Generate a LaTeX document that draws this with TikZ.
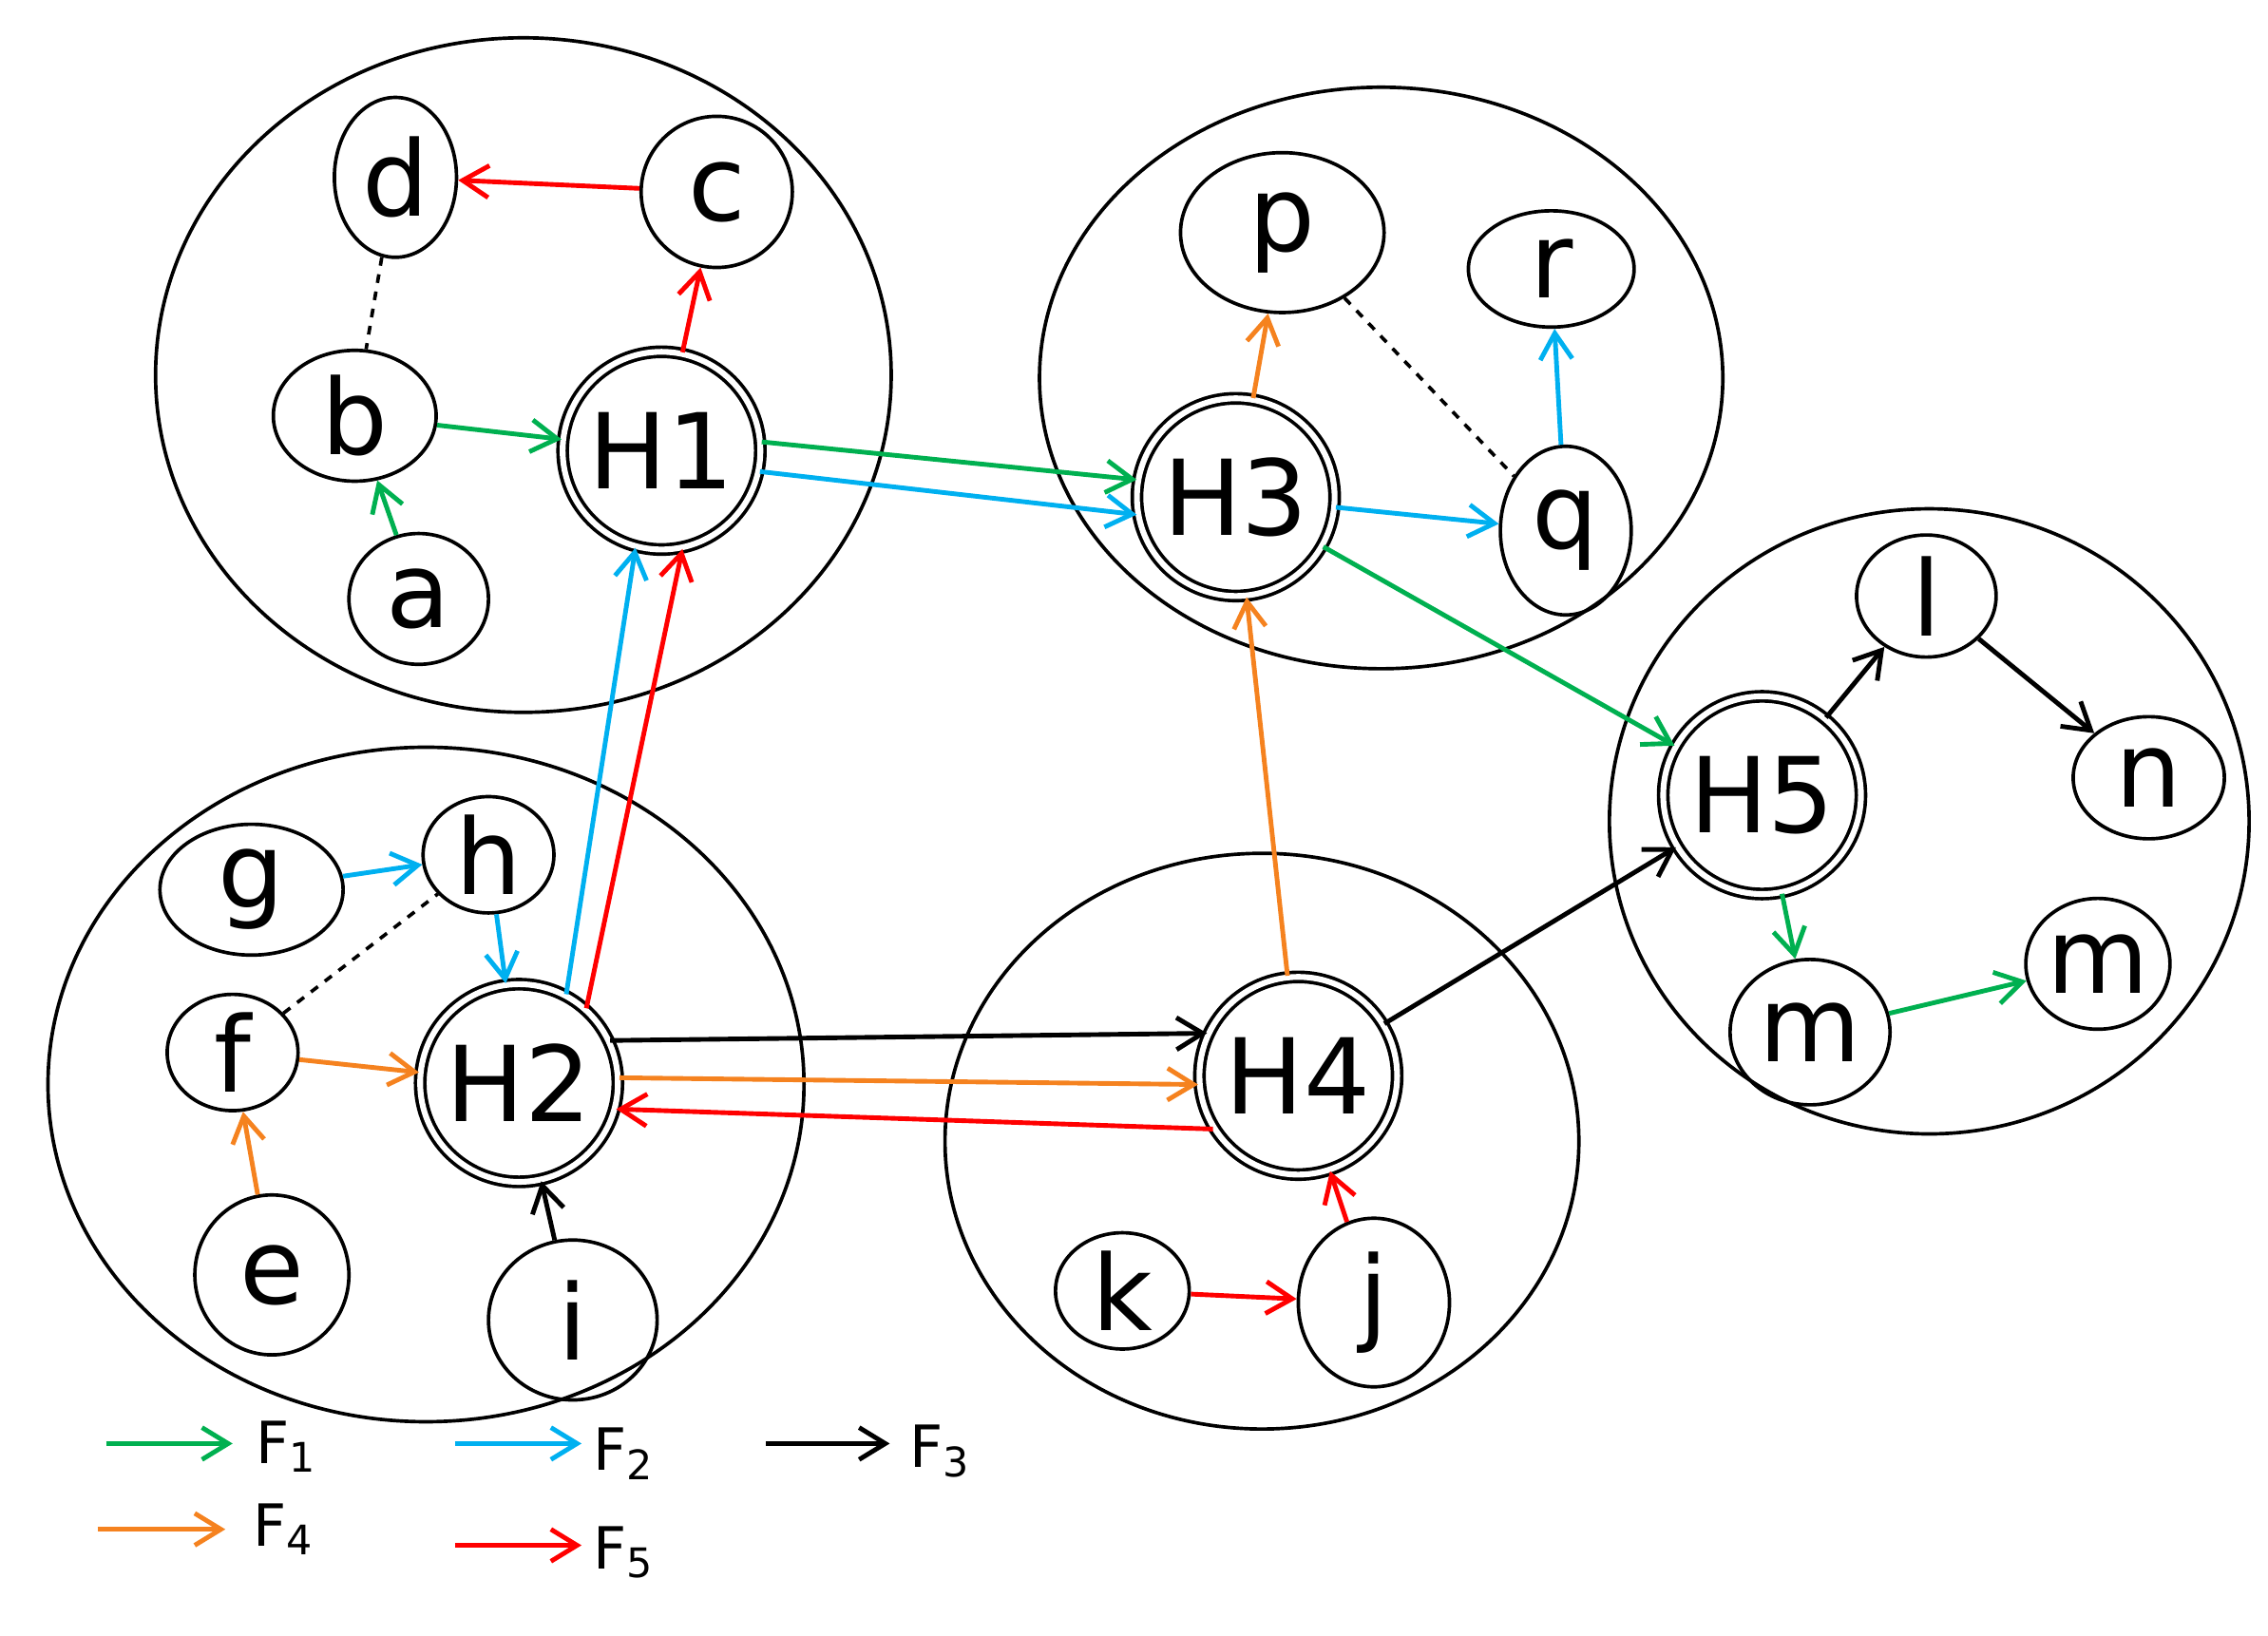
\documentclass[tikz,border=0pt]{standalone}
\usepackage{fontspec}
\setmainfont{DejaVu Sans}
\usetikzlibrary{arrows.meta, shapes.geometric, positioning}
\definecolor{fone}{HTML}{00B050}
\definecolor{ftwo}{HTML}{00B0F0}
\definecolor{ffour}{HTML}{F5821F}
\definecolor{ffive}{HTML}{FF0000}
\tikzset{
    %set default line width
    every picture/.style={line width=1.2pt},
    region/.style={
        draw,
        ellipse,
    },
    host/.style={
        draw,
        ellipse,
        inner sep=0pt,
        font=\fontsize{36}{38}\selectfont,
    },
    hub/.style={
        draw,
        circle,
        double,
        double distance=2pt,
        inner sep=0pt,
        minimum size=68pt,
        font=\fontsize{36}{38}\selectfont,
    },
    flow/.style={
        -{Straight Barb[length=9pt,width=11pt]},
        line width=1.6pt,
    },
    link/.style={
        dashed,
    },
    leg/.style={
        font=\fontsize{20}{22}\selectfont,
        anchor=west,
    }
}
\begin{document}
\begin{tikzpicture}[x=0.5pt,y=-0.5pt]
\useasboundingbox (0,0) rectangle (1560,1125);

% regions
\node[region, minimum width=253pt, minimum height=232pt] (R1) at (360,258) {};
\node[region, minimum width=235pt, minimum height=200pt] (R3) at (950,260) {};
\node[region, minimum width=260pt, minimum height=232pt] (R2) at (293,746) {};
\node[region, minimum width=218pt, minimum height=198pt] (R4) at (868,785) {};
\node[region, minimum width=220pt, minimum height=215pt] (R5) at (1327,565) {};

% hubs
\node[hub] (H1) at (455,310) {H1};
\node[hub] (H2) at (357,745) {H2};
\node[hub] (H3) at (850,342) {H3};
\node[hub] (H4) at (893,740) {H4};
\node[hub] (H5) at (1212,547) {H5};

% hosts
\node[host, minimum width=42pt, minimum height=55pt] (d) at (272,122) {d};
\node[host, minimum width=52pt, minimum height=52pt] (c) at (493,132) {c};
\node[host, minimum width=56pt, minimum height=45pt] (b) at (244,286) {b};
\node[host, minimum width=48pt, minimum height=45pt] (a) at (288,412) {a};
\node[host, minimum width=70pt, minimum height=55pt] (p) at (882,160) {p};
\node[host, minimum width=57pt, minimum height=40pt] (r) at (1067,185) {r};
\node[host, minimum width=45pt, minimum height=58pt] (q) at (1077,365) {q};
\node[host, minimum width=48pt, minimum height=42pt] (l) at (1325,410) {l};
\node[host, minimum width=52pt, minimum height=42pt] (n) at (1478,535) {n};
\node[host, minimum width=55pt, minimum height=50pt] (m1) at (1245,710) {m};
\node[host, minimum width=47pt, minimum height=45pt] (m2) at (1443,663) {m};
\node[host, minimum width=63pt, minimum height=45pt] (g) at (173,612) {g};
\node[host, minimum width=45pt, minimum height=40pt] (h) at (336,588) {h};
\node[host, minimum width=45pt, minimum height=40pt] (f) at (160,724) {f};
\node[host, minimum width=53pt, minimum height=55pt] (e) at (187,877) {e};
\node[host, minimum width=58pt, minimum height=55pt] (i) at (394,908) {i};
\node[host, minimum width=46pt, minimum height=40pt] (k) at (772,888) {k};
\node[host, minimum width=52pt, minimum height=58pt] (j) at (945,896) {j};

% links
\draw[link] (d) -- (b);
\draw[link] (p) -- (q);
\draw[link] (f) -- (h);

% F1
\draw[flow, fone] (a) -- (b);
\draw[flow, fone] (b) -- (H1);
\draw[flow, fone] (H1.5) -- (H3.170);
\draw[flow, fone] (H3) -- (H5);
\draw[flow, fone] (H5) -- (m1);
\draw[flow, fone] (m1) -- (m2);
% F2
\draw[flow, ftwo] (H1.-12) -- (H3.190);
\draw[flow, ftwo] (H3) -- (q);
\draw[flow, ftwo] (q) -- (r);
\draw[flow, ftwo] (g) -- (h);
\draw[flow, ftwo] (h) -- (H2);
\draw[flow, ftwo] (H2.62) -- (H1.255);
% F3
\draw[flow] (H2.25) -- (H4.155);
\draw[flow] (H4) -- (H5);
\draw[flow] (H5) -- (l);
\draw[flow] (l) -- (n);
\draw[flow] (i) -- (H2);
% F4
\draw[flow, ffour] (e) -- (f);
\draw[flow, ffour] (f) -- (H2);
\draw[flow, ffour] (H2.3) -- (H4.185);
\draw[flow, ffour] (H4) -- (H3);
\draw[flow, ffour] (H3) -- (p);
% F5
\draw[flow, ffive] (H4.212) -- (H2.-15);
\draw[flow, ffive] (H2.48) -- (H1.282);
\draw[flow, ffive] (H1) -- (c);
\draw[flow, ffive] (c) -- (d);
\draw[flow, ffive] (k) -- (j);
\draw[flow, ffive] (j) -- (H4);

% legend
\coordinate (l1s) at (73,993);  \coordinate (l1e) at (160,993);
\coordinate (l2s) at (313,993); \coordinate (l2e) at (400,993);
\coordinate (l3s) at (527,993); \coordinate (l3e) at (612,993);
\coordinate (l4s) at (67,1052); \coordinate (l4e) at (155,1052);
\coordinate (l5s) at (313,1063);\coordinate (l5e) at (400,1063);
\draw[flow, fone] (l1s) -- (l1e);
\draw[flow, ftwo] (l2s) -- (l2e);
\draw[flow] (l3s) -- (l3e);
\draw[flow, ffour] (l4s) -- (l4e);
\draw[flow, ffive] (l5s) -- (l5e);
\node[leg] (t1) at (168,995) {F\textsubscript{1}};
\node[leg] (t2) at (400,1000) {F\textsubscript{2}};
\node[leg] (t3) at (618,998) {F\textsubscript{3}};
\node[leg] (t4) at (166,1052) {F\textsubscript{4}};
\node[leg] (t5) at (400,1068) {F\textsubscript{5}};
\end{tikzpicture}
\end{document}
